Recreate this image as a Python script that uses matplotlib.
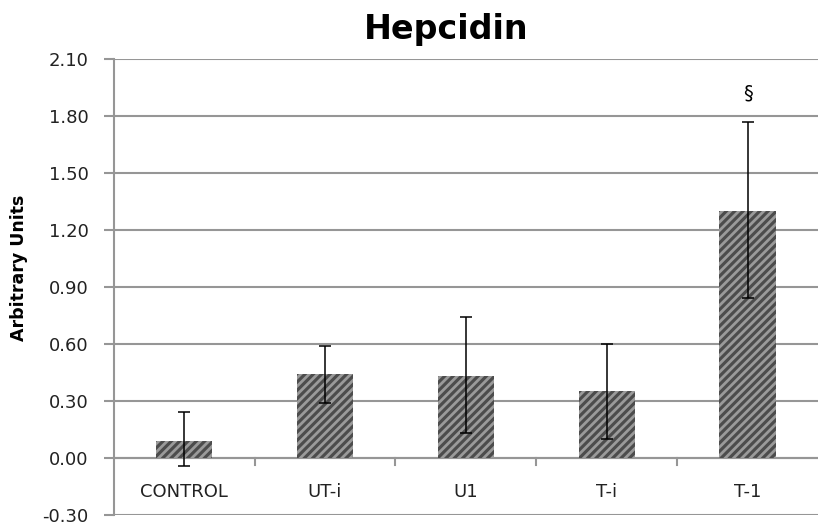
import numpy as np
import matplotlib
matplotlib.use('Agg')
import matplotlib.pyplot as plt

plt.rcParams['font.family'] = ['DejaVu Sans']
plt.rcParams['hatch.linewidth'] = 2.0

# data
groups = ['CONTROL', 'UT-i', 'U1', 'T-i', 'T-1']
means = [0.09, 0.44, 0.43, 0.35, 1.30]
err_low = [0.13, 0.15, 0.30, 0.25, 0.46]
err_high = [0.15, 0.15, 0.31, 0.25, 0.47]
yticks = [-0.30, 0.00, 0.30, 0.60, 0.90, 1.20, 1.50, 1.80, 2.10]

fig = plt.figure(figsize=(8.18, 5.25), dpi=100)
ax = fig.add_axes([0.139, 0.019, 0.861, 0.869])

x = np.arange(len(groups))
ax.bar(x, means, width=0.4, color='#4c4c4c', edgecolor='#9a9a9a', hatch='////',
       linewidth=0, zorder=3)
ax.errorbar(x, means, yerr=[err_low, err_high], fmt='none', ecolor='black',
            elinewidth=1.1, capsize=4.5, capthick=1.1, zorder=4)

# significance mark over T-1
ax.text(x[-1], means[-1] + err_high[-1] + 0.15, '§', ha='center', va='center', fontsize=14)

ax.set_xlim(-0.5, len(groups) - 0.5)
ax.set_ylim(-0.30, 2.10)
ax.set_yticks(yticks)
ax.set_yticklabels([f'{t:.2f}' for t in yticks], fontsize=13, color='#222222')
ax.yaxis.grid(True, color='#969696', linewidth=1.5, zorder=0)
ax.tick_params(axis='y', length=7, color='#969696', width=1.5, pad=11)

# category axis sits at zero with ticks between groups
ax.set_xticks([])
ax.axhline(0, color='#969696', linewidth=1.5, zorder=2)
for b in np.arange(0.5, len(groups) - 0.5):
    ax.plot([b, b], [0, -0.035], color='#969696', linewidth=1.5, zorder=2, clip_on=False)
for xi, g in zip(x, groups):
    ax.text(xi, -0.18, g, ha='center', va='center', fontsize=13, color='#222222')

for s in ['top', 'right', 'bottom']:
    ax.spines[s].set_visible(False)
ax.spines['left'].set_color('#969696')
ax.spines['left'].set_linewidth(1.5)

fig.text(0.023, 0.49, 'Arbitrary Units', rotation=90, ha='center', va='center',
         fontsize=12.5, fontweight='bold')
fig.text(0.546, 0.943, 'Hepcidin', ha='center', va='center', fontsize=24, fontweight='bold')

fig.savefig('out.png', dpi=100)
